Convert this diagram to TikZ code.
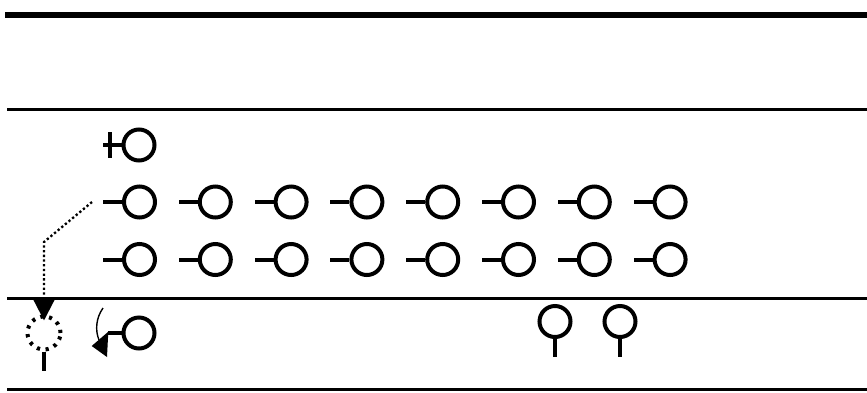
\documentclass[tikz,border=0pt]{standalone}
\usetikzlibrary{arrows.meta}
\begin{document}
\begin{tikzpicture}[x=1pt,y=-1pt,
  head/.style={circle,draw,line width=4pt,minimum size=31pt,inner sep=0pt},
  dothead/.style={circle,draw,line width=4pt,minimum size=33pt,inner sep=0pt,dash pattern=on 3.2pt off 5.6pt},
  tail/.style={line width=4pt},
  layer/.style={line width=3pt},
  dotarrow/.style={line width=2.3pt,dash pattern=on 2.3pt off 2.4pt,-{Triangle[width=22pt,length=22pt]}}]
\useasboundingbox (0,0) rectangle (867,392);
% membrane lines
\draw[line width=6pt] (5,14.5) -- (867,14.5);
\draw[layer] (7,109) -- (867,109);
\draw[layer] (7,298) -- (867,298);
\draw[layer] (7,389) -- (867,389);
% top single lipid with cross
\node[head] (p) at (139,145) {};
\draw[tail] (p.west) -- ++(-19,0);
\draw[tail] (110,132) -- (110,158);
% two rows
\foreach \k in {0,...,7}{
  \node[head] (a\k) at ({139.5+75.8*\k},202) {};
  \draw[tail] (a\k.west) -- ++(-19,0);
  \node[head] (b\k) at ({139.5+75.8*\k},259.5) {};
  \draw[tail] (b\k.west) -- ++(-19,0);
}
% bottom lipids
\node[dothead] (d) at (44,333) {};
\draw[tail] (d.south) -- ++(0,19);
\node[head] (f) at (139,333) {};
\draw[tail] (f.west) -- (108,333);
\node[head] (g1) at (555,321.5) {};
\draw[tail] (g1.south) -- ++(0,18);
\node[head] (g2) at (620,321.5) {};
\draw[tail] (g2.south) -- ++(0,18);
% dotted arrow
\coordinate (s) at ([xshift=-30pt]a0.west);
\coordinate (bend) at (44,242);
\draw[dotarrow] (s) -- (bend) -- ([yshift=-6pt]d.north);
% flip arrow
\draw[line width=1.4pt] (103,308) .. controls (96,318) and (95,330) .. (99,340);
\fill (91.7,346) -- (108.3,331.7) -- (107,357) -- cycle;
\end{tikzpicture}
\end{document}
